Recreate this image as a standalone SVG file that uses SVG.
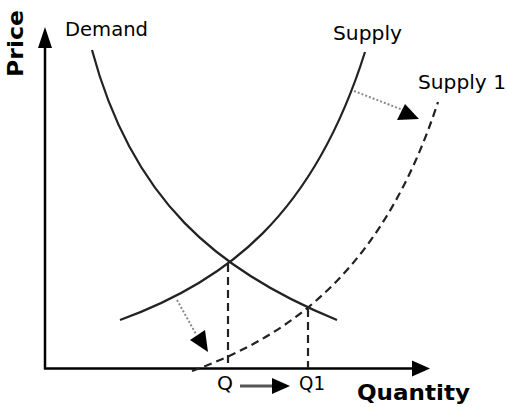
<svg xmlns="http://www.w3.org/2000/svg" width="507" height="407" viewBox="0 0 507 407">
<style>
.curve{fill:none;stroke:#222;stroke-width:2.2}
.dash{fill:none;stroke:#222;stroke-width:2.2;stroke-dasharray:8 5}
.dot{fill:none;stroke:#888;stroke-width:2;stroke-dasharray:2 2}
.axis{fill:none;stroke:#000;stroke-width:2.5}
.head{fill:#000}
.lbl{font-family:"DejaVu Sans",Verdana,sans-serif;font-size:20px;fill:#000}
.bold{font-family:"DejaVu Sans",Verdana,sans-serif;font-size:22px;font-weight:bold;fill:#000}
</style>
<rect width="507" height="407" fill="#fff"/>
<g id="axes">
<line class="axis" x1="45" y1="369" x2="45" y2="44"/>
<polygon class="head" points="45,27 38,48 52,48"/>
<line class="axis" x1="44" y1="368.5" x2="414" y2="368.5"/>
<polygon class="head" points="430,368.5 412,360.5 412,376.5"/>
<text class="bold" transform="translate(23,77) rotate(-90)" textLength="67" lengthAdjust="spacingAndGlyphs">Price</text>
<text class="bold" x="357" y="400" textLength="113" lengthAdjust="spacingAndGlyphs">Quantity</text>
</g>
<g id="demand">
<path class="curve" d="M92,50 C132,200 217,271 337,320"/>
<text class="lbl" x="65" y="36" textLength="83" lengthAdjust="spacingAndGlyphs">Demand</text>
</g>
<g id="supply">
<path class="curve" d="M120,320 C225,282 313,217 365,52"/>
<text class="lbl" x="333" y="40" textLength="69" lengthAdjust="spacingAndGlyphs">Supply</text>
</g>
<g id="supply1">
<path class="dash" d="M192,371 C298,333 385,264 438,102"/>
<text class="lbl" x="418" y="89" textLength="88" lengthAdjust="spacingAndGlyphs">Supply 1</text>
</g>
<g id="q">
<line class="dash" x1="228" y1="264" x2="228" y2="368"/>
<text class="lbl" x="217" y="390" textLength="16" lengthAdjust="spacingAndGlyphs">Q</text>
</g>
<g id="q1">
<line class="dash" x1="308" y1="309" x2="308" y2="368"/>
<text class="lbl" x="299" y="390" textLength="26" lengthAdjust="spacingAndGlyphs">Q1</text>
</g>
<g id="connectors">
<line class="dot" x1="354" y1="91" x2="403" y2="110"/>
<polygon class="head" points="405,104 397,120 419,119"/>
<line class="dot" x1="177" y1="300" x2="196" y2="334"/>
<polygon class="head" points="190,340 205,330 208,352"/>
<line x1="240" y1="386" x2="274" y2="386" stroke="#555" stroke-width="3"/>
<polygon class="head" points="272,378 272,394 290,386"/>
</g>
</svg>
